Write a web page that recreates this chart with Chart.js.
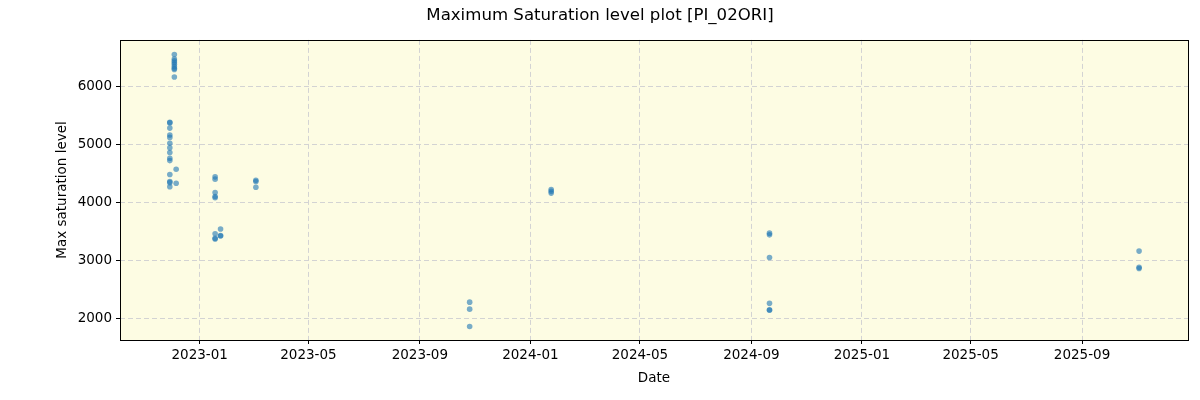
<!DOCTYPE html>
<html>
<head>
<meta charset="utf-8">
<script src="https://cdn.jsdelivr.net/npm/chart.js@4/dist/chart.umd.min.js"></script>
<style>
html,body{margin:0;padding:0;background:#fff;}
#wrap{width:1200px;height:400px;}
</style>
</head>
<body>
<div id="wrap"><canvas id="c" width="1200" height="400"></canvas></div>
<script>
const title = "Maximum Saturation level plot [PI_02ORI]";
const xLabel = "Date";
const yLabel = "Max saturation level";

const obsDates = [
  "2022-12-04","2022-12-04","2022-12-04","2022-12-04","2022-12-04","2022-12-04","2022-12-04","2022-12-04","2022-12-04",
  "2022-11-29","2022-11-29","2022-11-29","2022-11-29","2022-11-29","2022-11-29","2022-11-29","2022-11-29","2022-11-29","2022-11-29",
  "2022-11-29","2022-11-29","2022-11-29","2022-11-29",
  "2022-12-06","2022-12-06",
  "2023-01-18","2023-01-18","2023-01-18","2023-01-18","2023-01-18","2023-01-18","2023-01-18","2023-01-18",
  "2023-01-24","2023-01-24","2023-01-24",
  "2023-03-04","2023-03-04","2023-03-04",
  "2023-10-26","2023-10-26","2023-10-26",
  "2024-01-24","2024-01-24","2024-01-24",
  "2024-09-21","2024-09-21","2024-09-21","2024-09-21","2024-09-21","2024-09-21",
  "2025-11-03","2025-11-03","2025-11-03"
];
const maxSat = [
  6560,6480,6450,6420,6390,6350,6320,6300,6170,
  5390,5380,5290,5170,5130,5030,4950,4870,4770,4730,
  4490,4370,4350,4280,
  4580,4340,
  4450,4410,4180,4110,4090,3470,3390,3380,
  3550,3440,3430,
  4390,4370,4270,
  2290,2170,1870,
  4230,4200,4170,
  3480,3450,3060,2270,2160,2150,
  3170,2890,2870
];
const xTickDates = ["2023-01-01","2023-05-01","2023-09-01","2024-01-01","2024-05-01","2024-09-01","2025-01-01","2025-05-01","2025-09-01"];
const yTickValues = [2000,3000,4000,5000,6000];

const ms = s => Date.parse(s + "T00:00:00Z");
const points = obsDates.map((d,i)=>({x: ms(d), y: maxSat[i]}));

const bgPlugin = {
  id:'bg',
  beforeDraw(chart){
    const {ctx, chartArea:a} = chart;
    ctx.save(); ctx.fillStyle='#fdfce3'; ctx.fillRect(a.left,a.top,a.right-a.left,a.bottom-a.top); ctx.restore();
  },
  afterDraw(chart){
    const {ctx, chartArea:a} = chart;
    ctx.save(); ctx.strokeStyle='#000'; ctx.lineWidth=1;
    ctx.strokeRect(Math.round(a.left)+0.5, Math.round(a.top)+0.5, Math.round(a.right-a.left), Math.round(a.bottom-a.top));
    ctx.restore();
  }
};

new Chart(document.getElementById('c'), {
  type:'scatter',
  data:{datasets:[{data:points, backgroundColor:'rgba(31,119,180,0.6)', borderWidth:0, pointRadius:2.8, pointHoverRadius:2.8}]},
  options:{
    responsive:false, animation:false,
    layout:{padding:{left:12,right:12,top:0,bottom:13}},
    plugins:{
      legend:{display:false}, tooltip:{enabled:false},
      title:{display:true, text:title, color:'#000', font:{family:'DejaVu Sans', size:16.6, weight:'normal'}, padding:{top:5.5,bottom:14.5}}
    },
    scales:{
      x:{type:'linear', min:ms("2022-10-05"), max:ms("2025-12-27"),
        afterBuildTicks(s){ s.ticks = xTickDates.map(d=>({value:ms(d)})); },
        afterFit(s){ s.height = 47; },
        ticks:{color:'#000', font:{family:'DejaVu Sans', size:13.5}, maxRotation:0, autoSkip:false, padding:3,
          callback(v){ const d=new Date(v); return d.getUTCFullYear()+'-'+String(d.getUTCMonth()+1).padStart(2,'0'); }},
        grid:{color:'#d3d3d3', tickColor:'#000', tickLength:4, tickBorderDash:[], drawOnChartArea:true},
        border:{display:false, dash:[5,3]},
        title:{display:true, text:xLabel, color:'#000', font:{family:'DejaVu Sans', size:13.5}, padding:{top:0,bottom:0}}
      },
      y:{type:'linear', min:1638, max:6810,
        afterBuildTicks(s){ s.ticks = yTickValues.map(v=>({value:v})); },
        afterFit(s){ s.width = 108; },
        ticks:{color:'#000', font:{family:'DejaVu Sans', size:13.5}, padding:4, callback(v){ return String(v); }},
        grid:{color:'#d3d3d3', tickColor:'#000', tickLength:4, tickBorderDash:[]},
        border:{display:false, dash:[5,3]},
        title:{display:true, text:yLabel, color:'#000', font:{family:'DejaVu Sans', size:13.5}, padding:{top:42,bottom:0}}
      }
    }
  },
  plugins:[bgPlugin]
});
</script>
</body>
</html>
